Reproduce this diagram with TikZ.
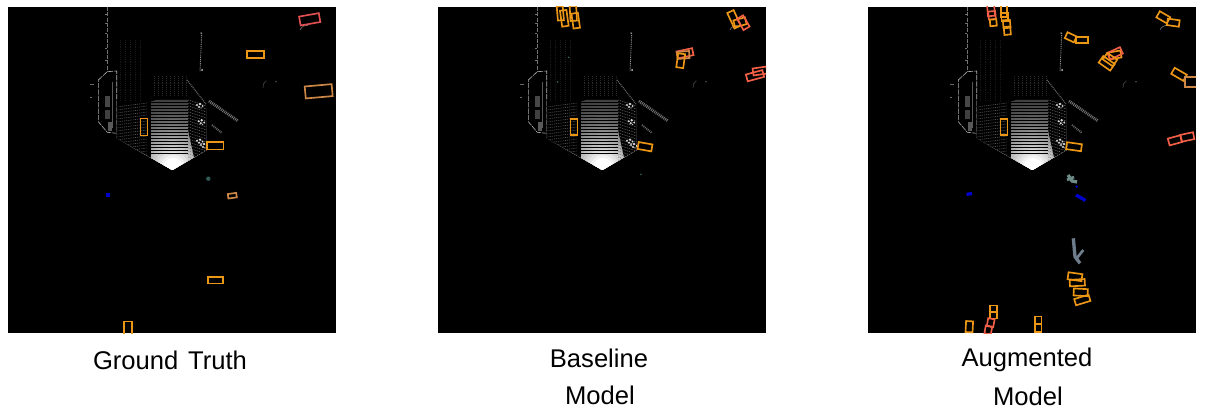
\documentclass[tikz,border=0pt]{standalone}
\usepackage{fontspec}
\setmainfont{Liberation Sans}
\usetikzlibrary{positioning}

\definecolor{boxorange}{RGB}{235,150,20}
\definecolor{boxtomato}{RGB}{240,95,70}
\definecolor{boxtan}{RGB}{205,135,70}
\definecolor{boxred}{RGB}{225,80,80}
\definecolor{dotteal}{RGB}{50,90,85}
\definecolor{dotblue}{RGB}{0,0,205}
\definecolor{dotslate}{RGB}{110,125,140}

\tikzset{
  panel/.style={fill=black},
  carline/.style={line width=1.25pt},
  caption/.style={font=\fontsize{19.2}{23}\selectfont},
  rowdots/.style={line width=.45pt,dash pattern=on .7pt off .7pt},
}

% one rotated car box: [colour]{x}{y}{width}{height}{angle}
\newcommand{\carbox}[6][boxorange]{
  \draw[carline,draw=#1,shift={(#2,#3)},rotate=#6] ({-#4/2},{-#5/2}) rectangle ({#4/2},{#5/2});
}

% a bush, made of a few small specks
\newcommand{\bushdots}[2]{
  \fill[white!85!black,shift={(#1,#2)}] (-3,-1) circle (1.1) (0,-2) circle (1.3) (2.5,0) circle (1) (-1,1) circle (1.2) (1,2) circle (.7);
}

% the points that all three panels share
\newcommand{\lidarcloud}{
    % Pole line and kerb on the left
    \draw[white!45!black,line width=.4pt,dash pattern=on 3pt off 1pt] (99.3,7)--(99.3,71.7);
    \foreach \y in {14,23,33,48,60}{
      \draw[white!45!black,line width=.4pt] (97,\y)--(99.3,\y);
    }
    \draw[white!70!black,line width=.45pt,dash pattern=on 4pt off .8pt] (90.3,80)--(99.3,71.7)--(108.7,71)--(108.7,133.3)--(99.3,132.3)--(90.3,121.7)--cycle;
    \draw[white!40!black,line width=.4pt] (82,84.3)--(86,84.3);
    \draw[white!40!black,line width=.4pt] (82,97.3)--(84,97.3);

    % Parked blocks inside the kerb
    \fill[white!28!black] (97,96) rectangle (102,107);
    \fill[white!25!black] (97,110) rectangle (102,119);
    \fill[white!35!black] (100,122) rectangle (104,131);
    \draw[white!35!black,line width=.4pt] (104,82)--(104,128);

    % Ground rows, clipped by the wedge in front of the sensor
    \begin{scope}
      \clip (108.7,100)--(108.7,138.3)--(164.3,170)--(198.7,150)--(198.7,100)--cycle;

      % Glow around the sensor
      \foreach \r [evaluate=\r as \lum using {min(100,25+95*(1-\r/70)^1.5)}] in {70,67,...,4}{
        \fill[white!\lum!black] (165,168) circle (\r);
      }
      \fill[black] (100,90) rectangle (141,180);
      \fill[black] (180,90)--(200,90)--(200,180)--(191,180)--(180,130)--cycle;

      \foreach \y in {103,106,...,170}{
        \draw[rowdots,white!32!black] (108.7,\y+4)--(139,\y);
      }
      \foreach \y in {100,103,...,160}{
        \draw[rowdots,white!45!black] (180.3,\y)--(198.7,\y+6);
      }
      \foreach \y in {102,105,...,153}{
        \draw[black,line width=.5pt] (141,\y)--(180,\y);
      }
      \fill[black] (139.5,100) rectangle (142.5,158);
    \end{scope}

    % Faint rows further away
    \foreach \x in {146,150,...,178}{
      \draw[rowdots,white!16!black] (\x,76)--(\x,96);
    }
    \foreach \x in {112,117,...,132}{
      \draw[rowdots,white!10!black] (\x,40)--(\x,100);
    }

    % Right side, wall and bushes
    \draw[rowdots,white!40!black,line width=.9pt] (179,80)--(198,104);
    \draw[rowdots,white!45!black,line width=2.2pt] (201,101)--(230,121);
    \draw[rowdots,white!40!black,line width=1.5pt] (204,125)--(214,133);
    \bushdots{192}{106}
    \bushdots{193.7}{122.3}
    \bushdots{192}{141.7}
    \bushdots{196}{146}
    \draw[rowdots,white!55!black,line width=.7pt] (193.7,33)--(192,72);
    \fill[white!80!black] (193,33) circle (.7);
    \fill[white!80!black] (194,70) circle (1);
    \fill[white!60!black] (268,81.7) circle (.6);
    \draw[white!40!black,line width=.5pt] (292,30) arc (200:280:7);
    \draw[white!25!black,line width=.5pt] (255,88) arc (170:240:7);
}

\begin{document}
\begin{tikzpicture}[x=.75pt,y=-.75pt]

    \useasboundingbox (0,0) rectangle (1206,417);

    %%%%%%%%%%%%%%%%%%
    %%%%% Panel 1 %%%%
    %%%%%%%%%%%%%%%%%%
    \begin{scope}[shift={(8,0)}]
    \fill[panel] (0,7) rectangle (328,333);
    \clip (0,7) rectangle (328,333);
    \lidarcloud
    \carbox[boxred]{301.7}{19.3}{20}{9}{10}
    \carbox{247.3}{54.3}{17}{7}{0}
    \carbox[boxtan]{310.7}{91.3}{27}{12}{5}
    \carbox{136}{127}{7}{17}{0}
    \carbox{207.3}{145.7}{16.5}{7.5}{0}
    \carbox[boxtan]{224.3}{195.7}{8.5}{4.5}{8}
    \carbox{207.3}{280.3}{15}{6.5}{0}
    \carbox{119.7}{328}{8}{13}{0}
    \fill[dotblue] (98,193.5) rectangle (101.5,197);
    \fill[dotteal] (200.3,178.7) circle (2.2);
    \end{scope}

    %%%%%%%%%%%%%%%%%%
    %%%%% Panel 2 %%%%
    %%%%%%%%%%%%%%%%%%
    \begin{scope}[shift={(438,0)}]
    \fill[panel] (0,7) rectangle (328,333);
    \clip (0,7) rectangle (328,333);
    \lidarcloud
    \carbox{136}{127.3}{7}{16}{0}
    \carbox{207}{146.7}{14}{7}{-10}

    % Top left group
    \carbox{122.3}{13.3}{6}{14}{5}
    \carbox{126.3}{18.3}{6.5}{16}{8}
    \carbox{135.3}{13.3}{6.5}{15}{3}
    \carbox{137.7}{20.7}{6.5}{15}{8}

    % Top right group
    \carbox{296}{19.3}{7}{17}{25}
    \carbox{302}{22.3}{12}{7}{15}
    \carbox[boxtomato]{305.3}{22.7}{7}{13}{30}

    % Middle right group
    \carbox[boxtomato]{247}{53.3}{16}{7}{12}
    \carbox[boxtan]{245.3}{55}{12}{7}{5}
    \carbox{242.7}{60.7}{7}{14}{-8}
    \carbox[boxtomato]{317}{75.7}{17}{7}{15}
    \carbox[boxtomato]{322}{71}{14}{7}{8}

    \fill[dotteal] (130.7,57.3) circle (1);
    \fill[dotteal] (119.7,82) circle (1);
    \fill[dotteal] (203,174.3) circle (1);
    \end{scope}

    %%%%%%%%%%%%%%%%%%
    %%%%% Panel 3 %%%%
    %%%%%%%%%%%%%%%%%%
    \begin{scope}[shift={(868,0)}]
    \fill[panel] (0,7) rectangle (328,333);
    \clip (0,7) rectangle (328,333);
    \lidarcloud
    \carbox{136}{127.3}{7}{16}{0}
    \carbox{206}{146.7}{15}{7}{-8}

    % Top left group
    \carbox[boxtomato]{123}{10}{7}{12}{5}
    \carbox[boxtomato]{124}{15.3}{7}{8}{5}
    \carbox{125.3}{22.7}{6.5}{6.5}{5}
    \carbox{136}{10}{6}{14}{0}
    \carbox{136.7}{16.7}{6.5}{8}{0}
    \carbox{138.7}{24}{7}{8}{5}
    \carbox{139.3}{30.7}{6.5}{8}{5}

    % Top middle and top right
    \carbox{202.7}{37.3}{10}{6.5}{-25}
    \carbox{213.7}{40}{12}{6.5}{0}
    \carbox{295.3}{17.3}{12}{7}{-30}
    \carbox{305.3}{22.7}{12}{6.5}{-8}

    % Middle right group
    \carbox{247}{55}{12}{7}{10}
    \carbox[boxtomato]{247}{53.3}{14}{7}{25}
    \carbox{238.7}{63.3}{14}{8}{-35}
    \carbox{242}{59.5}{12}{8}{-35}
    \carbox{311}{74.3}{14}{7}{-30}
    \carbox[boxtan]{323.7}{82}{13}{10}{0}
    \carbox[boxtomato]{307}{140.3}{13}{7}{15}
    \carbox[boxtomato]{319.3}{137}{13}{7}{12}

    % Lower right column
    \carbox{207}{276.7}{14}{7}{-8}
    \carbox{209.3}{282.7}{15}{6.5}{3}
    \carbox{212.7}{292.3}{14}{7}{-3}
    \carbox{214.3}{300}{15}{6.5}{17}

    % Lower left columns
    \carbox{125.2}{309}{7}{7}{0}
    \carbox{125.2}{315}{7}{7}{0}
    \carbox[boxtomato]{122.7}{322.7}{6.5}{8}{-10}
    \carbox[boxtomato]{120.3}{330}{6.5}{8}{-10}
    \carbox{101.3}{326.7}{7}{11}{-3}
    \carbox{170.3}{320}{6.5}{7}{0}
    \carbox{170.3}{328}{6.5}{8}{0}

    % Small objects
    \draw[dotblue,line width=2.5pt] (98.5,194.5)--(104,193.5);
    \draw[dotblue,line width=2.5pt] (208,195)--(217.5,200.5);
    \fill[dotblue] (208.7,186.7) circle (1.3);
    \draw[dotteal!70!white,line width=2.5pt] (200,175)--(204,181)--(209,182);
    \draw[dotteal!70!white,line width=2pt] (199,180)--(206,177);
    \draw[dotslate,line width=2.5pt] (205.3,238.3)--(207,256.7)--(212,263.3);
    \draw[dotslate,line width=2pt] (215.3,250)--(208.7,258.3);
    \end{scope}

    %%%%%%%%%%%%%%%%%%
    %%%%% Captions %%%
    %%%%%%%%%%%%%%%%%%
    \node[caption] (gtlabel) at (170,360) {Ground\hspace{2pt} Truth};
    \node[caption] (baselabel) at (599,358) {Baseline};
    \node[caption] (basemodel) at (600,395) {Model};
    \node[caption] (auglabel) at (1027,360) {Augmented};
    \node[caption] (augmodel) at (1028,396) {Model};

\end{tikzpicture}
\end{document}
